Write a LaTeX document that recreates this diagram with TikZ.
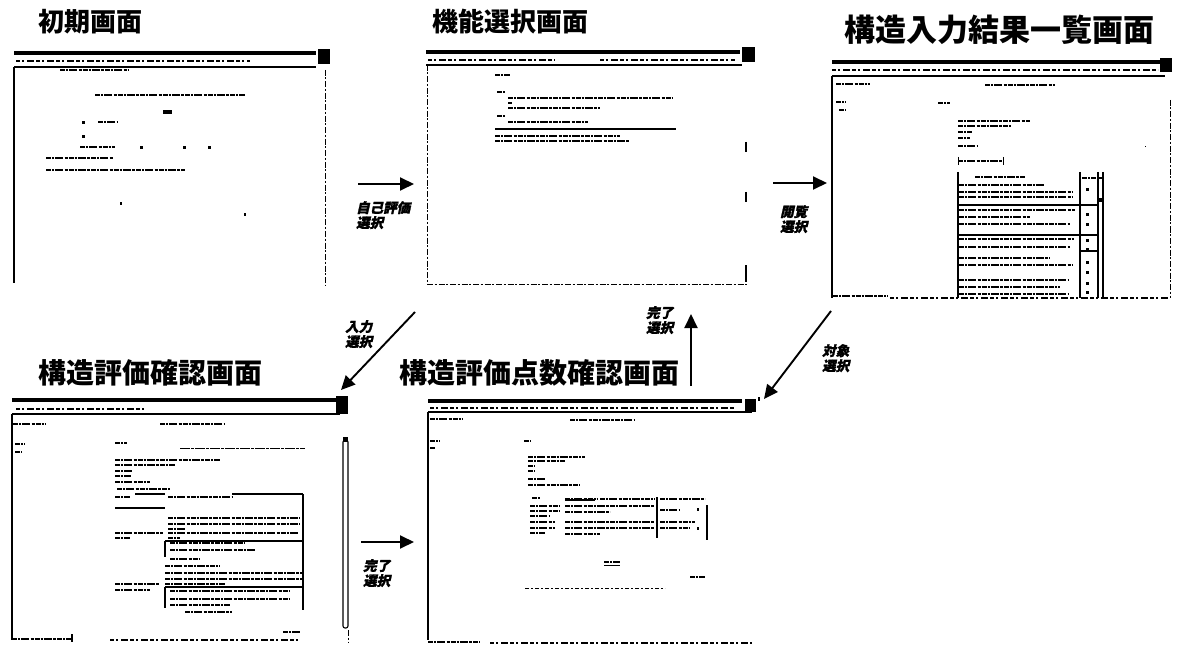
\documentclass[tikz,border=0pt]{standalone}
\usepackage{fontspec}
\newfontfamily\jp{Noto Sans CJK JP}
\newfontfamily\jpsl{Noto Sans CJK JP}[FakeSlant=0.22,FakeBold=1.5]
\usetikzlibrary{arrows.meta}
\tikzset{
  title/.style={font=\jp\bfseries\fontsize{26}{26}\selectfont, inner sep=0pt},
  lbl/.style={font=\jpsl\bfseries\fontsize{13.5}{15}\selectfont, align=left, anchor=north west, inner sep=0pt},
  flow/.style={line width=1.9pt, -{Triangle[length=14pt,width=13pt]}},
  tbar/.style={line width=2.4pt, dash pattern=on 5pt off 1pt on 2pt off 1pt on 8pt off 1.5pt on 3pt off 1pt},
  sbar/.style={line width=2.4pt},
  dline/.style={line width=1pt, dash pattern=on 6pt off 1.5pt on 2pt off 2pt},
  topbar/.style={line width=3.6pt},
  menu/.style={line width=1.4pt, dash pattern=on 4pt off 2pt on 2pt off 3pt on 7pt off 2pt},
  frame/.style={line width=1.1pt},
}
\newcommand\txl[3]{\draw[tbar] (#1,#3) -- (#2,#3);}
\begin{document}
\begin{tikzpicture}[x=1pt,y=-1pt]
\useasboundingbox[fill=white] (0,0) rectangle (1183,647);

% ---------------- titles
\node[title] (t1) at (90,22) {初期画面};
\node[title] (t2) at (510,22) {機能選択画面};
\node[title, font=\jp\bfseries\fontsize{31}{31}\selectfont] (t3) at (999,30) {構造入力結果一覧画面};
\node[title, font=\jp\bfseries\fontsize{28}{28}\selectfont] (t4) at (150,373) {構造評価確認画面};
\node[title, font=\jp\bfseries\fontsize{28}{28}\selectfont] (t5) at (539,373) {構造評価点数確認画面};

% ---------------- screen 1 : 初期画面
\draw[topbar] (14,53) -- (316,53);
\fill (318,49) rectangle (330,64);
\draw[menu] (16,61) -- (250,61);
\draw[frame] (14,67) -- (316,67);
\txl{60}{128}{70}
\draw[frame] (14,67) -- (14,283);
\draw[dline] (325,70) -- (325,285);
\txl{95}{245}{95}
\fill (163,110) rectangle (172,114);
\fill (82,121) rectangle (85,124); \txl{98}{118}{122}
\fill (82,135) rectangle (85,138);
\txl{80}{115}{147} \fill (140,146) rectangle (143,149); \fill (183,146) rectangle (186,149); \fill (208,146) rectangle (211,149);
\txl{46}{113}{158}
\txl{46}{185}{170}
\fill (120,202) rectangle (122,205);
\fill (244,213) rectangle (246,216);

% ---------------- screen 2 : 機能選択画面
\draw[topbar] (426,52) -- (740,52);
\fill (742,47) rectangle (755,62);
\draw[menu] (428,60) -- (555,60);
\draw[menu] (600,60) -- (735,60);
\draw[frame] (426,65) -- (742,65);
\draw[dline] (427,65) -- (427,285);
\draw[dline] (427,284) -- (748,284);
\txl{495}{510}{75}
\txl{497}{505}{92}
\txl{508}{672}{98}
\txl{508}{512}{103}
\txl{508}{600}{108}
\txl{497}{505}{116}
\txl{508}{588}{122}
\draw[line width=1.4pt] (495,129) -- (676,129);
\txl{495}{620}{136}
\txl{495}{630}{141}
\draw[line width=1.2pt] (746,142) -- (746,152);
\draw[line width=1.2pt] (746,192) -- (746,202);
\draw[line width=1.2pt] (746,265) -- (746,282);

% ---------------- screen 3 : 構造入力結果一覧画面
\draw[topbar] (832,62) -- (1162,62);
\fill (1160,58) rectangle (1172,72);
\draw[menu] (832,70) -- (1158,70);
\draw[frame] (832,76) -- (1165,76);
\txl{836}{870}{84}
\txl{985}{1055}{85}
\txl{836}{846}{102} \txl{938}{950}{103}
\txl{839}{846}{110}
\txl{958}{1030}{121} \txl{958}{1012}{126} \txl{958}{972}{132} \txl{958}{970}{138} \txl{958}{977}{146}
\draw[line width=1pt] (1145,147) -- (1146,147);
\txl{958}{1003}{161} \draw[line width=1pt] (958,157) -- (958,165) (1003,157) -- (1003,165);
% table
\draw[line width=1.1pt] (958,172) -- (958,298);
\draw[line width=1.3pt] (1080,172) -- (1080,298);
\draw[line width=1.1pt] (1098,172) -- (1098,298);
\draw[line width=1.1pt] (1103,172) -- (1103,298);
\txl{975}{1025}{177} \txl{1082}{1096}{178} \txl{1099}{1103}{178}
\txl{959}{1045}{185} \txl{959}{1072}{192} \txl{959}{1072}{197}
\draw[line width=1.2pt] (958,205) -- (1098,205);
\txl{959}{1075}{210} \txl{959}{1030}{217} \txl{959}{1070}{224}
\draw[line width=1.2pt] (958,235) -- (1098,235);
\txl{959}{1074}{239} \txl{959}{1070}{247}
\draw[line width=1.2pt] (1080,251) -- (1098,251);
\txl{959}{1050}{258} \txl{959}{1072}{265} \txl{959}{1068}{280} \txl{959}{1060}{287} \txl{959}{1068}{294}
\foreach \yy in {190,215,225,240,249,262,272,283,292} {\fill (1086,\yy-1.5) rectangle (1089,\yy+1.5);}
\fill (1098,198) rectangle (1102,202);
\draw[frame] (832,76) -- (832,298);
\draw[dline] (1170,100) -- (1170,298);
\txl{833}{888}{296}
\draw[menu] (890,298) -- (1168,298);

% ---------------- screen 4 : 構造評価確認画面
\draw[topbar] (12,400) -- (338,400);
\fill (336,396) rectangle (348,414);
\draw[menu] (16,409) -- (145,409);
\draw[frame] (12,414) -- (340,414);
\txl{13}{45}{424} \txl{160}{225}{424}
\txl{15}{25}{444} \txl{15}{22}{452} \txl{115}{127}{443}
\draw[line width=0.9pt, dash pattern=on 10pt off 1pt on 3pt off 1pt] (180,448) -- (305,448);
\txl{115}{220}{460} \txl{115}{175}{465} \txl{115}{132}{471} \txl{115}{131}{476} \txl{115}{150}{482} \txl{117}{170}{489}
\txl{115}{130}{497} \txl{168}{232}{497}
\draw[line width=1.1pt] (135,494) -- (165,494) (232,494) -- (303,494);
\draw[line width=1.1pt] (303,494) -- (303,610);
\draw[line width=1.3pt] (115,508) -- (165,508);
\txl{168}{300}{518} \txl{168}{300}{524} \txl{168}{185}{529}
\txl{115}{163}{533} \txl{168}{298}{533} \txl{115}{130}{538} \txl{168}{180}{538}
\draw[line width=1.1pt] (165,541) -- (165,557) (165,541) -- (302,541);
\txl{170}{245}{543} \txl{170}{255}{550} \txl{170}{200}{559}
\txl{165}{220}{566} \txl{165}{302}{573} \txl{165}{302}{579} \txl{165}{225}{584}
\txl{115}{160}{584} \txl{115}{150}{590}
\draw[line width=1.1pt] (165,587) -- (302,587) (165,587) -- (165,608);
\txl{170}{290}{591} \txl{170}{290}{599} \txl{170}{230}{605}
\txl{185}{232}{612}
\txl{283}{300}{632}
\draw[frame] (12,414) -- (12,640);
\draw[line width=1.1pt, rounded corners=2pt] (343,440) rectangle (348,628);
\fill (343,437) rectangle (348,442);
\draw[dline] (348,630) -- (348,642);
\txl{12}{72}{639}
\draw[line width=1.1pt] (72,634) -- (72,642);
\draw[menu] (110,640) -- (300,640);

% ---------------- screen 5 : 構造評価点数確認画面
\draw[topbar] (428,401) -- (742,401);
\fill (745,399) rectangle (756,412);
\draw[menu] (430,408) -- (735,408);
\draw[frame] (428,412) -- (752,412);
\txl{430}{463}{419} \txl{570}{635}{420}
\txl{430}{440}{441} \txl{430}{435}{448} \txl{524}{531}{441}
\txl{528}{585}{457} \txl{528}{565}{461} \txl{528}{535}{466} \txl{528}{535}{471} \txl{528}{545}{479} \txl{528}{580}{485}
\txl{532}{540}{498} \txl{565}{598}{499} \txl{600}{655}{499} \txl{660}{705}{499}
\draw[line width=1.1pt] (565,500) -- (595,500);
\draw[line width=1.1pt] (657,497) -- (657,538);
\draw[line width=1.1pt] (707,505) -- (707,540);
\txl{530}{560}{506} \txl{530}{560}{511} \txl{530}{550}{516}
\txl{565}{655}{506} \txl{565}{610}{512} \txl{660}{680}{510} \fill (697,508) rectangle (699,511);
\txl{530}{555}{522} \txl{530}{555}{528} \txl{530}{545}{533}
\txl{565}{655}{522} \txl{565}{655}{528} \txl{565}{600}{534} \txl{660}{695}{522} \txl{660}{690}{528} \fill (697,527) rectangle (699,530);
\txl{604}{620}{562} \draw[line width=1pt] (604,565) -- (620,565);
\txl{690}{705}{577}
\draw[line width=1pt, dash pattern=on 4pt off 2pt on 2pt off 2pt] (525,588) -- (665,588);
\draw[frame] (428,412) -- (428,640);
\fill (758,397) rectangle (760,401);
\txl{428}{480}{642}
\draw[menu] (490,643) -- (752,643);

% ---------------- connectors
\coordinate (a1s) at (358,184); \coordinate (a1e) at (414,184);
\coordinate (a2s) at (773,183); \coordinate (a2e) at (827,183);
\coordinate (a3s) at (415,312); \coordinate (a3e) at (341,390);
\coordinate (a4s) at (691,386); \coordinate (a4e) at (691,314);
\coordinate (a5s) at (831,311); \coordinate (a5e) at (764,399);
\coordinate (a6s) at (361,542); \coordinate (a6e) at (414,542);
\draw[flow] (a1s) -- (a1e);
\draw[flow] (a2s) -- (a2e);
\draw[flow] (a3s) -- (a3e);
\draw[flow] (a4s) -- (a4e);
\draw[flow] (a5s) -- (a5e);
\draw[flow] (a6s) -- (a6e);

\node[lbl] (l1) at (356,201) {自己評価\\選択};
\node[lbl] (l2) at (780,205) {閲覧\\選択};
\node[lbl] (l3) at (345,320) {入力\\選択};
\node[lbl] (l4) at (646,306) {完了\\選択};
\node[lbl] (l5) at (822,344) {対象\\選択};
\node[lbl] (l6) at (363,559) {完了\\選択};
\end{tikzpicture}
\end{document}
